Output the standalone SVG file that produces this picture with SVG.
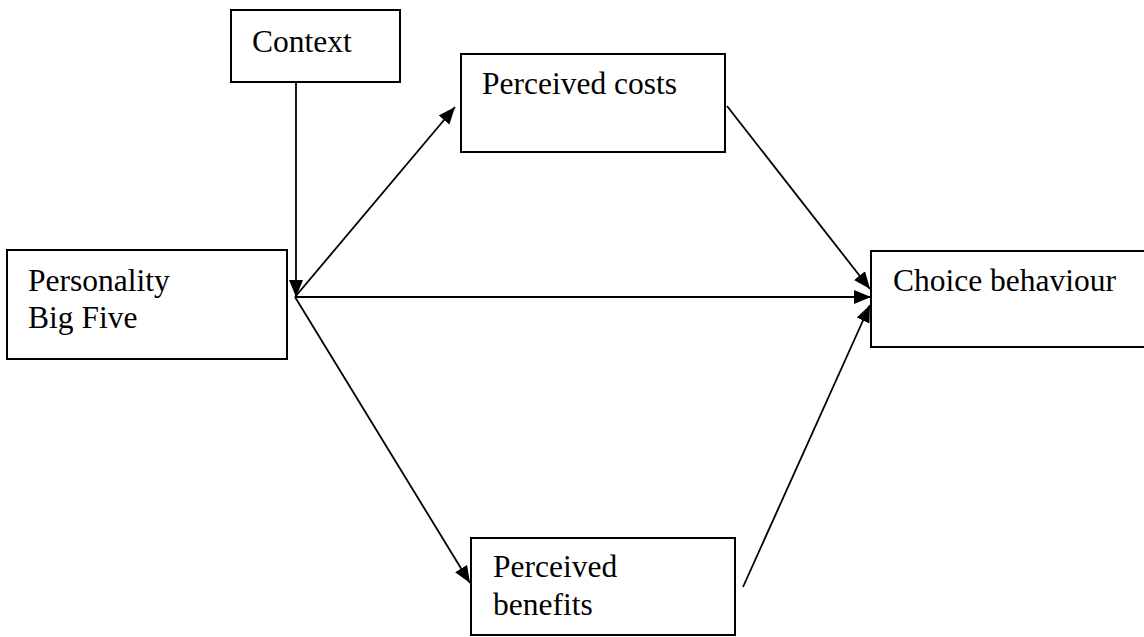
<svg xmlns="http://www.w3.org/2000/svg" width="1144" height="637" viewBox="0 0 1144 637">
<style>
.box{fill:#fff;stroke:#000;stroke-width:2}
.lbl{font-family:"Liberation Serif","Times New Roman",serif;font-size:31.5px;fill:#000}
.con{stroke:#000;stroke-width:1.8;fill:none}
</style>
<defs>
<marker id="ah" markerUnits="userSpaceOnUse" markerWidth="20" markerHeight="16" refX="17" refY="7" orient="auto">
<path d="M0,0 L17,7 L0,14 z" fill="#000"/>
</marker>
</defs>
<rect width="1144" height="637" fill="#fff"/>
<g id="context"><rect class="box" x="231" y="10" width="169" height="72"/><text class="lbl" x="252" y="52">Context</text></g>
<g id="personality"><rect class="box" x="7" y="250" width="280" height="109"/><text class="lbl" x="28" y="291">Personality</text><text class="lbl" x="28" y="328">Big Five</text></g>
<g id="costs"><rect class="box" x="461" y="54" width="264" height="98"/><text class="lbl" x="482" y="94">Perceived costs</text></g>
<g id="choice"><rect class="box" x="871" y="251" width="280" height="96"/><text class="lbl" x="893" y="291">Choice behaviour</text></g>
<g id="benefits"><rect class="box" x="471" y="538" width="264" height="97"/><text class="lbl" x="493" y="577">Perceived</text><text class="lbl" x="493" y="615">benefits</text></g>
<g id="connectors">
<line class="con" x1="296" y1="82" x2="296" y2="297" marker-end="url(#ah)"/>
<line class="con" x1="295" y1="297" x2="455" y2="107" marker-end="url(#ah)"/>
<line class="con" x1="295" y1="297" x2="871" y2="297" marker-end="url(#ah)"/>
<line class="con" x1="295" y1="297" x2="470" y2="583" marker-end="url(#ah)"/>
<line class="con" x1="727" y1="106" x2="870" y2="289" marker-end="url(#ah)"/>
<line class="con" x1="743" y1="587" x2="870" y2="305" marker-end="url(#ah)"/>
</g>
</svg>
